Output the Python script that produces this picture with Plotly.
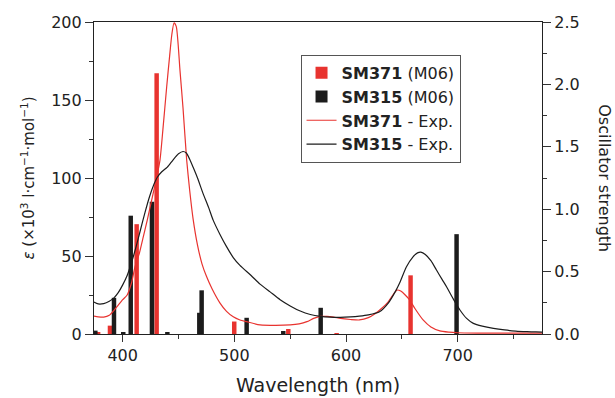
import plotly.graph_objects as go

# Calculated transitions (oscillator strength)
sm371_wl = [378, 388.6, 412.5, 430.4, 499.9, 548.3, 591.6, 657.8]
sm371_f = [0.01, 0.067, 0.88, 2.09, 0.10, 0.04, 0.005, 0.47]
sm315_wl = [375.5, 392.2, 400.5, 407.2, 426.2, 440.0, 468.6, 470.7, 511.0, 543.8, 577.3, 699.0]
sm315_f = [0.027, 0.29, 0.01, 0.948, 1.06, 0.016, 0.17, 0.35, 0.13, 0.024, 0.21, 0.80]

# Experimental spectra (epsilon, x10^3 l cm-1 mol-1)
sm371_exp_wl = [374, 378, 383, 388, 392, 396, 400, 404, 408, 411, 415, 418, 422, 426, 430, 433.4,
                436, 439.4, 442, 444, 446, 448, 451.3, 454, 457.3, 460, 463, 467, 471, 475, 480,
                487, 493, 499, 505, 511, 523, 537, 550, 558, 565, 571, 577, 583, 589, 595, 604,
                612, 620, 626, 632, 637, 641, 644, 646, 649, 653, 657, 662, 669, 676, 684, 692,
                700, 720, 750, 776]
sm371_exp_eps = [11.5, 11, 10.8, 12, 15, 18.5, 22, 25, 33, 43, 52, 61, 73, 86, 99, 111.5,
                 131, 158.5, 178, 192, 199.5, 197, 169, 145, 111.5, 92, 74, 57, 45, 37, 29,
                 20, 14.5, 11, 9, 7.9, 5.8, 5.5, 5.8, 6.5, 7.9, 10, 11.3, 11.3, 10.8, 10, 9.3,
                 9, 10.5, 13, 16.5, 20, 24, 27, 28.2, 27.5, 25, 21.8, 16, 9, 4.5, 2, 1.2,
                 0.8, 0.6, 0.5, 0.5]
sm315_exp_wl = [374, 378, 383, 388, 392, 396, 400, 404, 408, 412, 416, 420, 424, 428, 431, 435,
                440, 445, 450, 454, 457, 460, 463, 467, 472, 477, 481, 487, 493, 499, 505, 515,
                523, 532, 541, 550, 559, 568, 577, 586, 595, 604, 612, 620, 630, 638, 644, 648,
                654, 660, 664, 667, 671, 676, 681, 686, 690, 696, 702, 708, 714, 722, 732, 742,
                752, 762, 770, 776]
sm315_exp_eps = [20.5, 19.3, 19.5, 21, 23, 26.5, 31.5, 37.5, 46, 56, 67, 78, 88, 96, 100.5, 104,
                 107, 111.5, 115.5, 117, 116, 112, 107, 100, 90, 81, 73, 64, 56, 49, 44, 37.5,
                 32, 27, 22, 18, 14.7, 12.5, 11.3, 10.8, 10.7, 11, 11.5, 12.3, 14.3, 20, 27, 32.7,
                 43, 49.5, 52, 52.5, 51, 47, 41, 35, 30.3, 22.5, 15.4, 10, 6.8, 5, 3.6, 2.6,
                 1.9, 1.5, 1.3, 1.2]

RED = "#e8332f"
BLACK = "#1c1c1c"
FONT = "DejaVu Sans, Liberation Sans, Arial, sans-serif"
TXT = "#222222"

fig = go.Figure()
fig.add_trace(go.Bar(x=sm371_wl, y=sm371_f, width=4, marker=dict(color=RED, line=dict(width=0)),
                     name="<b>SM371</b> (M06)", yaxis="y"))
fig.add_trace(go.Bar(x=sm315_wl, y=sm315_f, width=4, marker=dict(color=BLACK, line=dict(width=0)),
                     name="<b>SM315</b> (M06)", yaxis="y"))
fig.add_trace(go.Scatter(x=sm371_exp_wl, y=sm371_exp_eps, mode="lines", line=dict(color=RED, width=1.2, shape="spline", smoothing=0.6),
                         name="<b>SM371</b> - Exp.", yaxis="y2"))
fig.add_trace(go.Scatter(x=sm315_exp_wl, y=sm315_exp_eps, mode="lines", line=dict(color=BLACK, width=1.2, shape="spline", smoothing=0.6),
                         name="<b>SM315</b> - Exp.", yaxis="y2"))

fig.update_layout(
    width=615, height=398,
    margin=dict(l=94, r=73, t=22, b=64),
    paper_bgcolor="white", plot_bgcolor="white",
    font=dict(family=FONT, size=16, color=TXT),
    barmode="overlay",
    showlegend=True,
    legend=dict(x=0.461, y=0.895, xanchor="left", yanchor="top",
                bordercolor="#555555", borderwidth=1, bgcolor="white",
                font=dict(size=16, color=TXT), tracegroupgap=0, itemwidth=30,
                traceorder="normal"),
    xaxis=dict(range=[374.3, 775.5], dtick=100, tick0=0, ticks="outside", ticklen=7,
               tickwidth=1, tickcolor="#333", showline=True, linecolor="#222", linewidth=1.2,
               mirror=True, showgrid=False, zeroline=False, automargin=False,
               minor=dict(dtick=50, tick0=0, ticks="outside", ticklen=4, tickcolor="#333", showgrid=False),
               title=dict(text="Wavelength (nm)", standoff=14)),
    yaxis=dict(range=[0, 2.5], side="right", dtick=0.5, tickformat=".1f", ticks="outside", ticklen=8,
               tickcolor="#333", showline=True, linecolor="#222", linewidth=1.2,
               showgrid=False, zeroline=False, automargin=False,
               minor=dict(dtick=0.25, ticks="outside", ticklen=4, tickcolor="#333", showgrid=False)),
    yaxis2=dict(range=[0, 200], side="left", overlaying="y", dtick=50, ticks="outside", ticklen=8,
                tickcolor="#333", showline=True, linecolor="#222", linewidth=1.2,
                showgrid=False, zeroline=False, automargin=False,
                minor=dict(dtick=25, ticks="outside", ticklen=4, tickcolor="#333", showgrid=False),
                title=dict(text="<i>ε</i> (×10<sup>3</sup> l·cm<sup>−1</sup>·mol<sup>−1</sup>)",
                           standoff=12, font=dict(size=15))),
    annotations=[dict(text="Oscillator strength", textangle=90, xref="paper", yref="paper",
                      x=1.14, y=0.5, showarrow=False, xanchor="center", yanchor="middle",
                      font=dict(size=16, color=TXT))],
)

fig.write_html("out.html", config={"displayModeBar": False},
               post_script="document.body.style.margin='0';")
